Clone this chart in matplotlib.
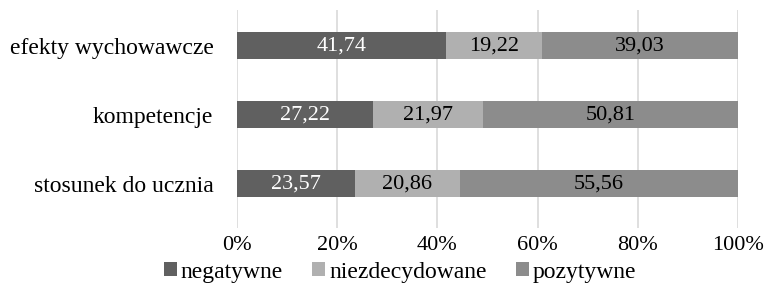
import numpy as np
import matplotlib.pyplot as plt

categories = ["stosunek do ucznia", "kompetencje", "efekty wychowawcze"]
negatywne = [23.57, 27.22, 41.74]
niezdecydowane = [20.86, 21.97, 19.22]
pozytywne = [55.56, 50.81, 39.03]

series = [("negatywne", negatywne, "#606060", "white"),
          ("niezdecydowane", niezdecydowane, "#b0b0b0", "black"),
          ("pozytywne", pozytywne, "#8c8c8c", "black")]

plt.rcParams["font.family"] = ["Liberation Serif", "DejaVu Serif"]
plt.rcParams["font.size"] = 16

fig = plt.figure(figsize=(7.65, 2.88), dpi=100)
ax = fig.add_axes([237 / 765, 60 / 288, 501 / 765, 218 / 288])

y = np.arange(len(categories))
left = np.zeros(len(categories))
for name, vals, color, tcolor in series:
    vals = np.array(vals)
    ax.barh(y, vals, left=left, height=0.39, color=color, label=name, zorder=3)
    for yi, l, v in zip(y, left, vals):
        ax.text(l + v / 2, yi, f"{v:.2f}".replace(".", ","), ha="center", va="center",
                color=tcolor, zorder=4)
    left += vals

ax.set_xlim(0, 100)
ax.set_ylim(-0.64, 2.52)
ax.set_xticks(np.arange(0, 101, 20))
ax.set_xticklabels([f"{v}%" for v in range(0, 101, 20)])
ax.set_yticks(y)
ax.set_yticklabels(categories, fontsize=17)
ax.grid(axis="x", color="#d9d9d9", linewidth=1.2, zorder=0)
for s in ax.spines.values():
    s.set_visible(False)
ax.tick_params(axis="x", length=0, pad=6)
ax.tick_params(axis="y", length=0, pad=17)

fig.legend(loc="lower center", bbox_to_anchor=(0.523, -0.055), ncol=3, frameon=False,
           fontsize=17, handlelength=0.55, handleheight=0.55, handletextpad=0.15,
           columnspacing=1.25)

fig.savefig("out.png", dpi=100)
